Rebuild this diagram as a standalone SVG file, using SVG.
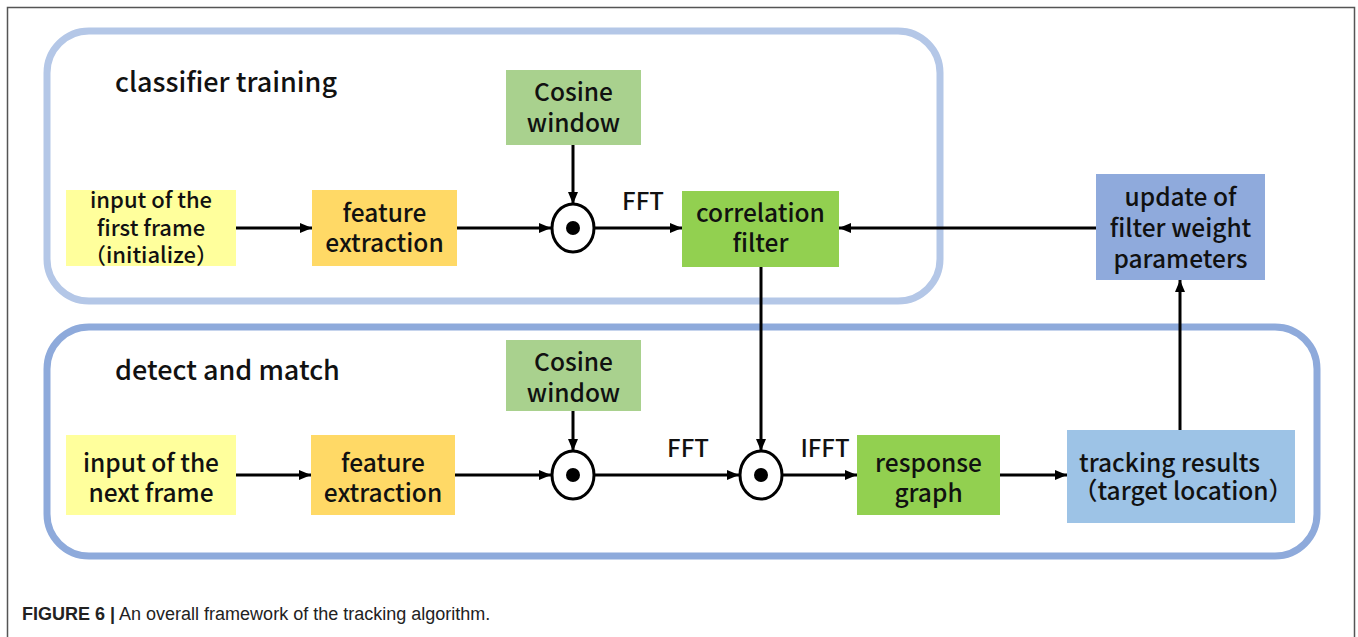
<svg xmlns="http://www.w3.org/2000/svg" width="1358" height="637" viewBox="0 0 1358 637">
<style>
.t{font-family:"Noto Sans CJK SC","Noto Sans",sans-serif;font-size:24.5px;font-weight:500;fill:#111;text-anchor:middle}
.s{font-size:22px}
.lbl{font-family:"Noto Sans CJK SC","Noto Sans",sans-serif;font-size:27px;font-weight:500;fill:#111}
.ft{font-family:"Noto Sans CJK SC","Noto Sans",sans-serif;font-size:24px;font-weight:500;fill:#111;text-anchor:middle}
.c{fill:none;stroke:#000;stroke-width:3}
.op{fill:#fff;stroke:#000;stroke-width:3}
</style>
<defs>
<marker id="ah" viewBox="0 0 12 10" refX="12" refY="5" markerWidth="12" markerHeight="10" markerUnits="userSpaceOnUse" orient="auto">
<path d="M0,0 L12,5 L0,10 z" fill="#000"/>
</marker>
</defs>
<rect x="0" y="0" width="1358" height="637" fill="#fff"/>
<rect x="7.5" y="7.5" width="1347" height="660" fill="none" stroke="#555" stroke-width="1.5"/>
<g id="group-classifier">
<rect x="47" y="31" width="893" height="270" rx="42" fill="none" stroke="#b4c7e7" stroke-width="7"/>
<text class="lbl" x="115" y="92">classifier training</text>
</g>
<g id="group-detect">
<rect x="47" y="327" width="1270" height="229" rx="42" fill="none" stroke="#8eaadb" stroke-width="7"/>
<text class="lbl" x="115" y="380">detect and match</text>
</g>
<g id="connectors">
<line class="c" x1="236" y1="228" x2="312" y2="228" marker-end="url(#ah)"/>
<line class="c" x1="457" y1="228" x2="551" y2="228" marker-end="url(#ah)"/>
<line class="c" x1="573" y1="145" x2="573" y2="204" marker-end="url(#ah)"/>
<line class="c" x1="595" y1="228" x2="682" y2="228" marker-end="url(#ah)"/>
<line class="c" x1="1096" y1="228" x2="839" y2="228" marker-end="url(#ah)"/>
<line class="c" x1="761" y1="266" x2="761" y2="451" marker-end="url(#ah)"/>
<line class="c" x1="236" y1="475" x2="311" y2="475" marker-end="url(#ah)"/>
<line class="c" x1="455" y1="475" x2="551" y2="475" marker-end="url(#ah)"/>
<line class="c" x1="573" y1="411" x2="573" y2="451" marker-end="url(#ah)"/>
<line class="c" x1="595" y1="475" x2="739" y2="475" marker-end="url(#ah)"/>
<line class="c" x1="782" y1="475" x2="857" y2="475" marker-end="url(#ah)"/>
<line class="c" x1="1000" y1="475" x2="1067" y2="475" marker-end="url(#ah)"/>
<line class="c" x1="1180" y1="430" x2="1180" y2="280" marker-end="url(#ah)"/>
<text class="ft" x="643" y="210">FFT</text>
<text class="ft" x="688" y="457">FFT</text>
<text class="ft" x="825" y="457">IFFT</text>
</g>
<g id="n-input-first">
<rect x="66" y="190" width="170" height="76" fill="#ffff9c"/>
<text class="t s" x="151" y="208">input of the</text>
<text class="t s" x="151" y="236">first frame</text>
<text class="t s" x="151" y="263">（initialize）</text>
</g>
<g id="n-feature-1">
<rect x="312" y="190" width="145" height="76" fill="#ffd966"/>
<text class="t" x="384.5" y="222">feature</text>
<text class="t" x="384.5" y="252">extraction</text>
</g>
<g id="n-cosine-1">
<rect x="506" y="70" width="135" height="75" fill="#a9d18e"/>
<text class="t" x="573.5" y="101">Cosine</text>
<text class="t" x="573.5" y="132">window</text>
</g>
<g id="n-mult-1">
<ellipse class="op" cx="573" cy="228" rx="21" ry="24"/>
<circle cx="573" cy="228" r="7" fill="#000"/>
</g>
<g id="n-corr">
<rect x="682" y="191" width="157" height="76" fill="#92d050"/>
<text class="t" x="760.5" y="222">correlation</text>
<text class="t" x="760.5" y="252">filter</text>
</g>
<g id="n-update">
<rect x="1096" y="174" width="169" height="106" fill="#8faadc"/>
<text class="t" x="1180.5" y="206">update of</text>
<text class="t" x="1180.5" y="237">filter weight</text>
<text class="t" x="1180.5" y="268">parameters</text>
</g>
<g id="n-input-next">
<rect x="66" y="435" width="170" height="80" fill="#ffff9c"/>
<text class="t" x="151" y="472">input of the</text>
<text class="t" x="151" y="502">next frame</text>
</g>
<g id="n-feature-2">
<rect x="311" y="435" width="144" height="80" fill="#ffd966"/>
<text class="t" x="383" y="472">feature</text>
<text class="t" x="383" y="502">extraction</text>
</g>
<g id="n-cosine-2">
<rect x="506" y="340" width="135" height="71" fill="#a9d18e"/>
<text class="t" x="573.5" y="371">Cosine</text>
<text class="t" x="573.5" y="402">window</text>
</g>
<g id="n-mult-2">
<ellipse class="op" cx="573" cy="475" rx="21" ry="24"/>
<circle cx="573" cy="475" r="7" fill="#000"/>
</g>
<g id="n-mult-3">
<ellipse class="op" cx="761" cy="475" rx="21" ry="24"/>
<circle cx="761" cy="475" r="7" fill="#000"/>
</g>
<g id="n-response">
<rect x="857" y="435" width="143" height="80" fill="#92d050"/>
<text class="t" x="928.5" y="472">response</text>
<text class="t" x="928.5" y="502">graph</text>
</g>
<g id="n-tracking">
<rect x="1067" y="430" width="228" height="93" fill="#9dc3e6"/>
<text class="t" x="1079" y="472" style="text-anchor:start">tracking results</text>
<text class="t" x="1073" y="500" style="text-anchor:start">（target location）</text>
</g>
<g id="caption">
<text x="22" y="620" style="font-family:'Liberation Sans',Arial,sans-serif;font-size:18px;fill:#222"><tspan font-weight="bold">FIGURE 6 |</tspan> An overall framework of the tracking algorithm.</text>
</g>
</svg>
